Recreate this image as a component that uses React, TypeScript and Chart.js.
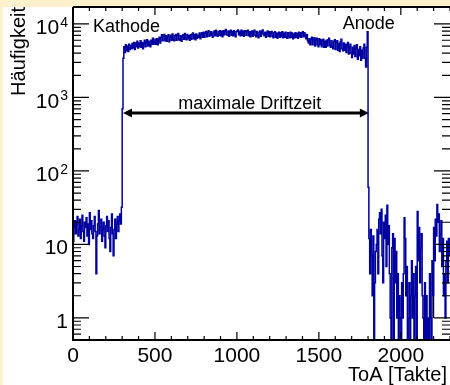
import { useEffect, useRef } from "react";
import { Chart, registerables } from "chart.js";

Chart.register(...registerables);

// Histogram: ToA spectrum, bins of 5 clock ticks starting at 0
const binWidth = 5;
const firstBinEdge = 0;

// bins 0 .. 295
const countsBeforeCathode = [
  11, 17, 21, 14, 19, 24, 13, 16, 22, 12,
  18, 25, 15, 11, 20, 17, 23, 13, 19, 10,
  27, 16, 21, 14, 12, 18, 24, 15, 4, 13,
  19, 29, 14, 17, 22, 11, 16, 20, 13, 9,
  18, 24, 15, 21, 12, 8, 17, 26, 14, 7,
  16, 22, 12, 19, 24, 15, 21, 26, 19, 32,
];

// bins 300 .. 1795
const countsDriftPlateau = [
  700, 3400, 4900, 4100, 5200, 4300, 5000, 4200, 5300, 4500,
  5100, 4600, 5400, 4700, 5600, 4500, 5500, 4900, 5800, 4700,
  5500, 4900, 5900, 4800, 5600, 4600, 5400, 6000, 4900, 5700,
  6100, 5000, 5800, 5200, 4900, 6000, 5300, 6400, 5300, 5600,
  6200, 5300, 6300, 5200, 6100, 6600, 5500, 6500, 7100, 5900,
  6800, 7200, 5900, 6900, 5800, 6700, 7100, 5700, 6600, 7000,
  6000, 7300, 6200, 5900, 6900, 7200, 6000, 7000, 7400, 6100,
  6000, 6900, 5800, 6700, 7100, 6200, 7400, 6400, 6100, 7200,
  6300, 6900, 6000, 7100, 6200, 7300, 7500, 6300, 7200, 6100,
  7300, 6400, 7000, 6600, 7500, 6300, 7100, 7600, 6600, 7700,
  6600, 7500, 7900, 6700, 7700, 8100, 6800, 7100, 7800, 7000,
  6600, 7700, 8000, 6900, 8200, 7200, 6800, 7900, 7000, 8100,
  6900, 7900, 6700, 8100, 7100, 8000, 8400, 7200, 7000, 8000,
  6800, 7800, 8200, 7000, 7900, 6900, 8100, 7100, 6700, 7800,
  8000, 8300, 7100, 7900, 6900, 8200, 7000, 8000, 6800, 7800,
  8100, 7000, 7900, 8200, 6900, 7800, 6700, 7700, 8000, 6800,
  7800, 8200, 7000, 6700, 7900, 6900, 6500, 7700, 8000, 6800,
  7800, 8300, 7300, 6900, 7700, 6600, 7600, 8000, 6800, 7800,
  6700, 7600, 7900, 6800, 6500, 7600, 7800, 6600, 7500, 6400,
  7400, 7700, 6600, 7600, 6700, 7800, 6500, 7500, 6600, 7700,
  6700, 6400, 7600, 6800, 6500, 7700, 6600, 7500, 6300, 7300,
  6500, 7600, 6600, 7400, 6400, 7700, 6700, 7600, 6600, 7500,
  7800, 6700, 7600, 6800, 6300, 7200, 5900, 5500, 6300, 5200,
  6200, 6600, 5200, 6100, 6500, 5000, 6000, 6400, 5200, 4900,
  6300, 5200, 6100, 4900, 5900, 6200, 4800, 5800, 4800, 6000,
  5000, 6100, 6400, 5100, 4800, 5900, 4900, 4600, 5800, 6100,
  4500, 5600, 5900, 4400, 5400, 4200, 5700, 6200, 4600, 4300,
  5500, 4400, 5300, 4100, 5100, 5600, 3900, 4900, 5300, 4000,
  3500, 4800, 3900, 5100, 3600, 4700, 5200, 3300, 4500, 3700,
  4900, 3200, 4400, 3400, 4700, 5300, 3400, 2600, 4800, 7800,
];

// bins 1800 .. 2295
const countsAfterAnode = [
  60, 12, 4, 16, 7, 2, 13, 0, 3, 8,
  10, 16, 4, 22, 27, 14, 30, 7, 3, 20,
  12, 25, 5, 34, 10, 18, 4, 1, 0, 9,
  14, 0, 12, 3, 8, 1, 4, 0, 2, 1,
  0, 3, 1, 4, 23, 12, 2, 5, 0, 1,
  3, 0, 2, 6, 1, 4, 0, 2, 5, 0,
  28, 6, 17, 3, 9, 14, 2, 1, 0, 3,
  0, 2, 0, 1, 0, 4, 1, 0, 6, 2,
  17, 6, 22, 13, 35, 20, 26, 8, 14, 21,
  5, 12, 2, 4, 1, 6, 11, 3, 12, 7,
];

// second (black) histogram edge near the right border
const blackEdgeX = [2200, 2200];
const blackEdgeY = [10, 1];

const xMin = 0;
const xMax = 2300;
const yMin = 0.5;
const yMax = 17000;

const xMajorTicks = [0, 500, 1000, 1500, 2000];
const xMajorLabels = ["0", "500", "1000", "1500", "2000"];
const xMinorStep = 100;
const yDecades = [1, 10, 100, 1000, 10000];
const yDecadeBase = ["1", "10", "10", "10", "10"];
const yDecadeExp = ["", "", "2", "3", "4"];

const xTitle = "ToA [Takte]";
const yTitle = "Häufigkeit";

const cathodeLabel = { text: "Kathode", x: 122, y: 7850 };
const anodeLabel = { text: "Anode", x: 1646, y: 8470 };
const driftLabel = { text: "maximale Driftzeit", x: 1079, y: 690 };
const driftArrow = { from: 305, to: 1805, level: 612 };

const FONT = '"Liberation Sans", Arial, Helvetica, sans-serif';
const LINE_BLUE = "#0000a0";
const BG_YELLOW = "#fef1cc";

const rootStyle = {
  id: "rootStyle",
  beforeDraw(chart: any) {
    const { ctx, width, height, chartArea } = chart;
    ctx.save();
    ctx.fillStyle = BG_YELLOW;
    ctx.fillRect(0, 0, width, height);
    ctx.fillStyle = "#ffffff";
    ctx.fillRect(3, chartArea.top, width - 3, height - chartArea.top);
    ctx.restore();
  },
  afterDraw(chart: any) {
    const { ctx, chartArea } = chart;
    const xs = chart.scales.x;
    const ys = chart.scales.y;
    const { left, right, top, bottom } = chartArea;
    ctx.save();

    // ticks
    ctx.strokeStyle = "#000";
    ctx.lineWidth = 1.2;
    ctx.beginPath();
    for (let v = xMin; v <= xMax; v += xMinorStep) {
      const px = xs.getPixelForValue(v);
      const major = xMajorTicks.includes(v);
      const len = major ? 8 : 4;
      ctx.moveTo(px, bottom);
      ctx.lineTo(px, bottom - len);
      ctx.moveTo(px, top);
      ctx.lineTo(px, top + len);
    }
    const dec = [0.1, 1, 10, 100, 1000, 10000];
    for (const d of dec) {
      for (let m = 1; m <= 9; m++) {
        const v = m * d;
        if (v <= yMin || v >= yMax) continue;
        const py = ys.getPixelForValue(v);
        const len = m === 1 ? 16 : 8;
        ctx.moveTo(left, py);
        ctx.lineTo(left + len, py);
        ctx.moveTo(right, py);
        ctx.lineTo(right - len, py);
      }
    }
    ctx.stroke();

    // frame
    ctx.lineWidth = 2;
    ctx.beginPath();
    ctx.moveTo(left, top);
    ctx.lineTo(right + 2, top);
    ctx.moveTo(left, top);
    ctx.lineTo(left, bottom);
    ctx.lineTo(right + 2, bottom);
    ctx.stroke();

    ctx.fillStyle = "#000";
    // x tick labels
    ctx.font = `21px ${FONT}`;
    ctx.textAlign = "center";
    ctx.textBaseline = "alphabetic";
    xMajorTicks.forEach((v, i) => {
      ctx.fillText(xMajorLabels[i], xs.getPixelForValue(v), bottom + 22);
    });

    // y tick labels
    yDecades.forEach((v, i) => {
      const py = ys.getPixelForValue(v);
      const base = yDecadeBase[i];
      const exp = yDecadeExp[i];
      if (exp) {
        ctx.font = `14px ${FONT}`;
        ctx.textAlign = "right";
        const ew = ctx.measureText(exp).width;
        ctx.fillText(exp, left - 5, py + 3);
        ctx.font = `21px ${FONT}`;
        ctx.fillText(base, left - 6 - ew, py + 10.5);
      } else {
        ctx.font = `21px ${FONT}`;
        ctx.textAlign = "right";
        ctx.fillText(base, left - 5, py + 10);
      }
    });

    // axis titles
    ctx.font = `20px ${FONT}`;
    ctx.textAlign = "right";
    ctx.fillText(xTitle, right - 3, bottom + 41);
    ctx.save();
    ctx.translate(25, top);
    ctx.rotate(-Math.PI / 2);
    ctx.textAlign = "right";
    ctx.fillText(yTitle, 0, 0);
    ctx.restore();

    // annotations
    ctx.font = `18px ${FONT}`;
    ctx.textAlign = "left";
    ctx.fillText(cathodeLabel.text, xs.getPixelForValue(cathodeLabel.x), ys.getPixelForValue(cathodeLabel.y));
    ctx.fillText(anodeLabel.text, xs.getPixelForValue(anodeLabel.x), ys.getPixelForValue(anodeLabel.y));
    ctx.textAlign = "center";
    ctx.fillText(driftLabel.text, xs.getPixelForValue(driftLabel.x), ys.getPixelForValue(driftLabel.y));

    // double arrow
    const ax1 = xs.getPixelForValue(driftArrow.from);
    const ax2 = xs.getPixelForValue(driftArrow.to);
    const ay = ys.getPixelForValue(driftArrow.level);
    const head = 9;
    const hh = 4.5;
    ctx.lineWidth = 3;
    ctx.beginPath();
    ctx.moveTo(ax1 + head - 1, ay);
    ctx.lineTo(ax2 - head + 1, ay);
    ctx.stroke();
    ctx.beginPath();
    ctx.moveTo(ax1, ay);
    ctx.lineTo(ax1 + head, ay - hh);
    ctx.lineTo(ax1 + head, ay + hh);
    ctx.closePath();
    ctx.moveTo(ax2, ay);
    ctx.lineTo(ax2 - head, ay - hh);
    ctx.lineTo(ax2 - head, ay + hh);
    ctx.closePath();
    ctx.fill();

    ctx.restore();
  },
};

export default function App() {
  const canvasRef = useRef<HTMLCanvasElement | null>(null);

  useEffect(() => {
    const canvas = canvasRef.current;
    if (!canvas) return;
    const counts = [...countsBeforeCathode, ...countsDriftPlateau, ...countsAfterAnode];
    const histData = counts.map((c, i) => ({
      x: firstBinEdge + (i + 0.5) * binWidth,
      y: c > 0 ? c : yMin,
    }));
    const blackData = blackEdgeX.map((x, i) => ({ x, y: blackEdgeY[i] }));

    const chart = new Chart(canvas, {
      type: "line",
      data: {
        datasets: [
          {
            data: histData,
            borderColor: LINE_BLUE,
            borderWidth: 1.5,
            pointRadius: 0,
            stepped: "middle",
            tension: 0,
            fill: false,
          },
          {
            data: blackData,
            borderColor: "#000",
            borderWidth: 1.2,
            pointRadius: 0,
            fill: false,
          },
        ],
      },
      options: {
        animation: false,
        responsive: false,
        devicePixelRatio: 1,
        parsing: true,
        layout: { padding: { left: 73, top: 7, right: 0, bottom: 45 } },
        plugins: {
          legend: { display: false },
          tooltip: { enabled: false },
          title: { display: false },
        },
        scales: {
          x: { type: "linear", min: xMin, max: xMax, display: false },
          y: { type: "logarithmic", min: yMin, max: yMax, display: false },
        },
      },
      plugins: [rootStyle],
    });
    return () => chart.destroy();
  }, []);

  return (
    <div style={{ position: "fixed", left: 0, top: 0, width: 450, height: 385 }}>
      <canvas ref={canvasRef} width={450} height={385} style={{ width: 450, height: 385 }} />
    </div>
  );
}
